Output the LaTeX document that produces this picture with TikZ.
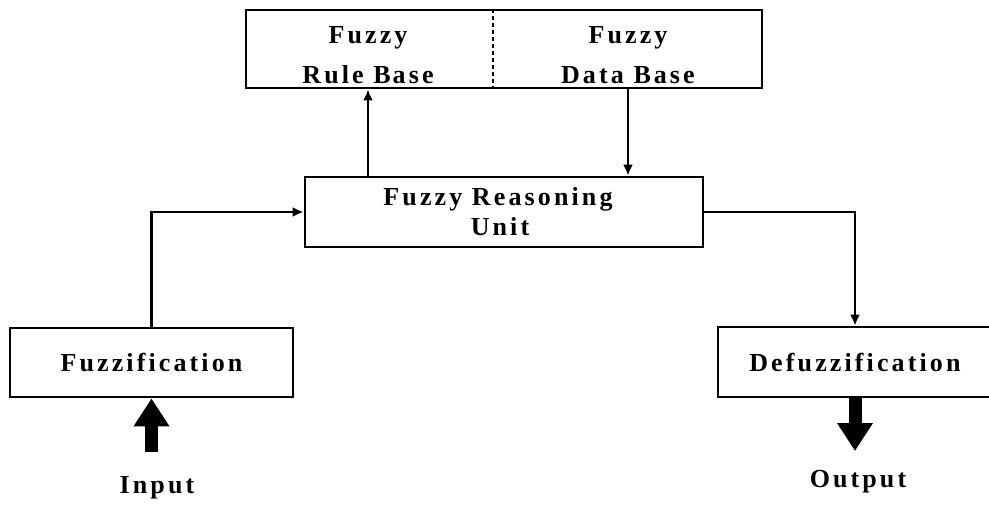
\documentclass[tikz,border=0pt]{standalone}
\usepackage{fontspec}
\setmainfont{Liberation Serif}[LetterSpace=12]
\usetikzlibrary{arrows.meta}
\begin{document}
\begin{tikzpicture}[x=1pt,y=-1pt,
  box/.style={draw, line width=2.8pt, inner sep=0pt, align=center},
  lab/.style={font=\fontsize{26}{40}\selectfont\bfseries, align=center, inner sep=0pt},
  conn/.style={line width=2.3pt, -{Latex[length=11pt,width=10pt]}},
  fat/.style={line width=13pt, line cap=butt, -{Triangle[length=28pt,width=34pt]}}]
\useasboundingbox (0,0) rectangle (989,504);
% knowledge base
\node[box, minimum width=516pt, minimum height=78pt] (kb) at (504,49) {};
\node[lab] (rb) at (368,55) {Fuzzy\\Rule B\kern2pt ase};
\node[lab] (db) at (628,55) {Fuzzy\\D\kern3pt ata B\kern3pt ase};
\coordinate (dv) at (493,49);
\draw[line width=2.6pt, dash pattern=on 4pt off 3pt] (kb.north -| dv) -- (kb.south -| dv);
% reasoning unit
\node[box, lab, font=\fontsize{26}{30}\selectfont\bfseries, minimum width=398pt, minimum height=70pt] (rs) at (504,212) {Fuzzy Reasoning\hspace*{12pt}\\Unit\hspace*{8pt}};
% fuzzification / defuzzification
\node[box, lab, minimum width=283pt, minimum height=69pt] (fz) at (151.5,362.5) {Fuzzification};
\node[box, lab, minimum width=274pt, minimum height=70pt] (dz) at (855,362) {D\kern3pt efuzzification};
% input / output
\coordinate (inp) at (151.5,452);
\coordinate (outp) at (855,451);
\draw[fat] (inp) -- (fz.south);
\draw[fat] (dz.south) -- (outp);
\node[lab, anchor=base] (in) at (157,493) {Input};
\node[lab, anchor=base] (out) at (858,487) {O\kern3pt utput};
% connectors
\draw[conn] (fz.north) |- (rs.west);
\draw[conn] (rs.east) -| (dz.north);
\draw[conn] (rs.north -| rb) -- (kb.south -| rb);
\draw[conn] (kb.south -| db) -- (rs.north -| db);
\end{tikzpicture}
\end{document}
